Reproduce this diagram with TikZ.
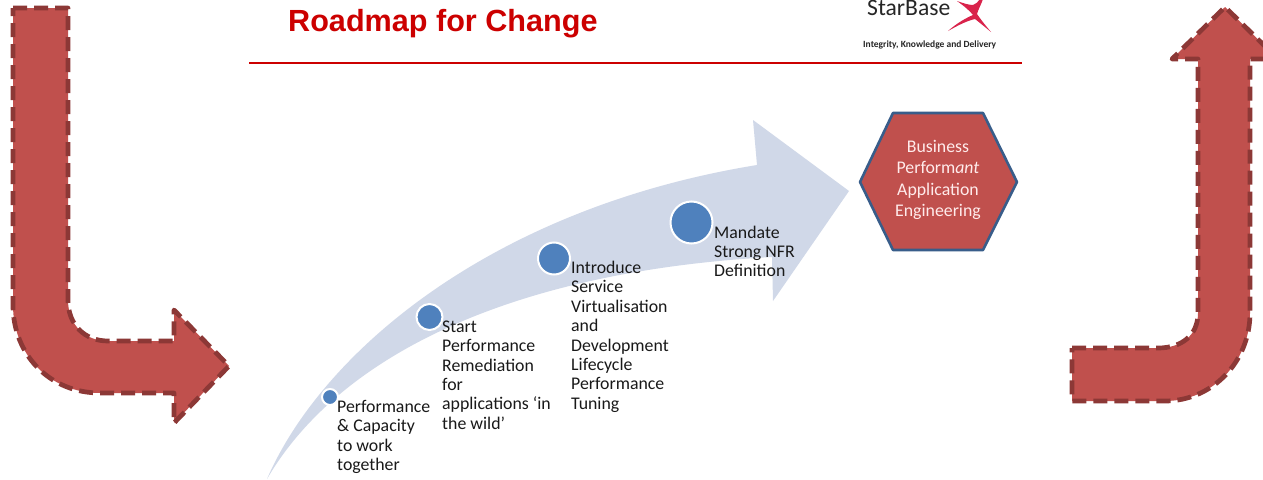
\documentclass[tikz,border=0pt]{standalone}
\usepackage{fontspec}
\setmainfont{Carlito}
\newfontfamily\titlefont{Liberation Sans}
\definecolor{redfill}{HTML}{C0504D}
\definecolor{reddash}{HTML}{8C3836}
\definecolor{paleblue}{HTML}{D0D8E8}
\definecolor{midblue}{HTML}{4F81BD}
\definecolor{hexline}{HTML}{385D8A}
\definecolor{titlered}{HTML}{CC0000}
\definecolor{logored}{HTML}{D9234B}
\tikzset{
  x=1pt,y=-1pt,
  bentarrow/.style={fill=redfill,draw=reddash,line width=4.7pt,dash pattern=on 14pt off 7pt,line join=round},
  dot/.style={circle,fill=midblue,draw=white,line width=2pt,inner sep=0pt},
  steptext/.style={anchor=north west,inner sep=0pt,align=left,font=\fontsize{17.8}{19.4}\selectfont,text=black!90},
}
\begin{document}
\begin{tikzpicture}
\useasboundingbox (0,0) rectangle (1263,479);
\clip (0,0) rectangle (1263,479);
\fill[white] (0,0) rectangle (1263,479);
% left bent arrow
\path[bentarrow] (13,8) -- (68,8) -- (68,300) .. controls (68,325) and (85,341) .. (108,341) -- (174,341) -- (174,310) -- (229,366) -- (174,423) -- (174,393) -- (100,393) .. controls (50,393) and (13,355) .. (13,305) -- cycle;
% right bent arrow
\path[bentarrow] (1072,348) -- (1158,348) .. controls (1182,348) and (1198,335) .. (1198,313) -- (1198,59) -- (1172,59) -- (1225,7) -- (1278,59) -- (1250,59) -- (1250,313) .. controls (1250,362) and (1212,401) .. (1165,401) -- (1072,401) -- cycle;
% title and rule
\node[anchor=base west,inner sep=0pt,text=titlered,font=\titlefont\bfseries\fontsize{30.6}{33}\selectfont] (title) at (288,31) {Roadmap for Change};
\coordinate (ruleL) at (249,63);
\coordinate (ruleR) at (1022,63);
\draw[titlered,line width=2.8pt] (ruleL) -- (ruleR);
% logo
\node[anchor=base west,inner sep=0pt,text=black!85,font=\fontsize{23.6}{25}\selectfont] (logo) at (867,16) {StarBase};
\node[anchor=base west,inner sep=0pt,text=black!85,font=\bfseries\fontsize{9.5}{11}\selectfont] (tag) at (863,47) {Integrity, Knowledge and Delivery};
\fill[logored] (948,31) .. controls (957,23) and (966,18) .. (973,15) .. controls (970,11) and (964,6) .. (957,1) .. controls (963,3) and (968,5) .. (973,5) .. controls (976,4) and (978,2) .. (980,-1) -- (983,-1) .. controls (981,5) and (978,10) .. (977,14) .. controls (981,20) and (986,26) .. (991,32) .. controls (985,27) and (980,23) .. (975,19) .. controls (966,21) and (957,26) .. (948,31) -- cycle;
% big pale arrow
\fill[paleblue] (267,479) .. controls (322,352) and (492,208) .. (757,165) -- (753,120) -- (849,191) -- (773,301) -- (772,257) .. controls (500,272) and (335,362) .. (267,479) -- cycle;
% hexagon
\draw[fill=redfill,draw=hexline,line width=2.6pt,line join=round] (860,182) -- (893,113) -- (983,113) -- (1017,182) -- (983,250) -- (893,250) -- cycle;
\node[align=center,inner sep=0pt,text=white!92!red,font=\fontsize{17.8}{21.5}\selectfont] (goal) at (938,180) {Business\\Perform\textit{ant}\\Application\\Engineering};
% dots
\node[dot,minimum size=16pt] (d1) at (330,397) {};
\node[dot,minimum size=26pt] (d2) at (429.5,317) {};
\node[dot,minimum size=32pt] (d3) at (554,258.5) {};
\node[dot,minimum size=42pt] (d4) at (691.5,222.5) {};
% texts
\node[steptext] (t1) at (337,400) {Performance\\\&~Capacity\\to work\\together};
\node[steptext] (t2) at (442,320.5) {Start\\Performance\\Remediation\\for\\applications ‘in\\the wild’};
\node[steptext] (t3) at (571,261) {Introduce\\Service\\Virtualisation\\and\\Development\\Lifecycle\\Performance\\Tuning};
\node[steptext] (t4) at (714,225.5) {Mandate\\Strong NFR\\Definition};
\end{tikzpicture}
\end{document}
